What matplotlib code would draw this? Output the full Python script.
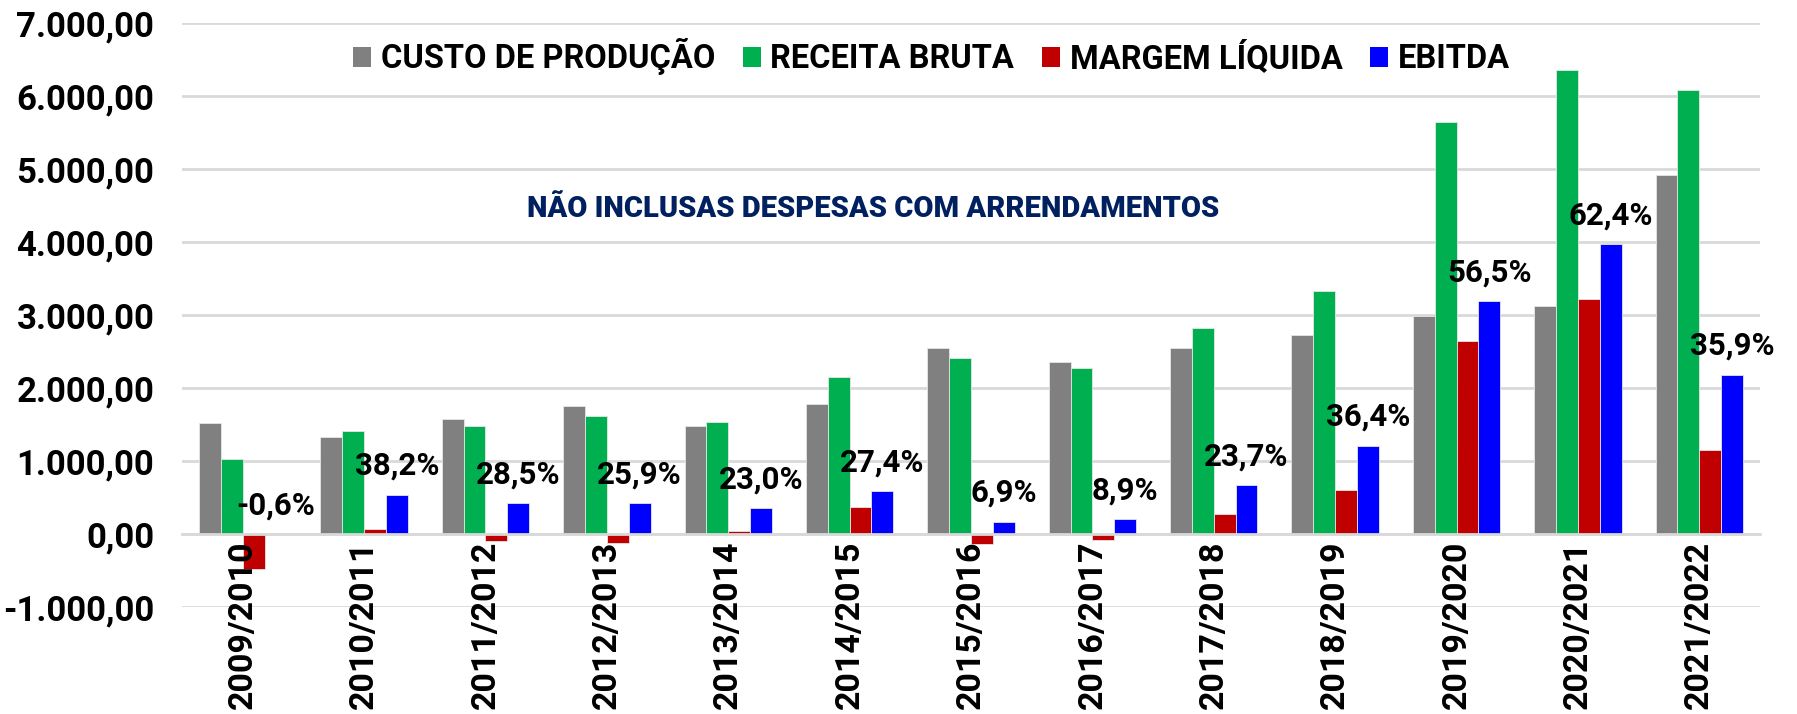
import numpy as np
import matplotlib.pyplot as plt
from matplotlib.patches import Patch
from matplotlib.ticker import FuncFormatter

plt.rcParams['font.family'] = ['Roboto', 'DejaVu Sans']

safras = ['2009/2010', '2010/2011', '2011/2012', '2012/2013', '2013/2014',
          '2014/2015', '2015/2016', '2016/2017', '2017/2018', '2018/2019',
          '2019/2020', '2020/2021', '2021/2022']

custo = [1516, 1322, 1576, 1747, 1479, 1776, 2548, 2361, 2548, 2721, 2987, 3125, 4922]
receita = [1032, 1405, 1475, 1622, 1534, 2146, 2416, 2274, 2817, 3329, 5648, 6356, 6082]
margem = [-479, 69, -101, -129, 41, 370, -132, -87, 269, 603, 2644, 3221, 1155]
ebitda = [-6, 537, 420, 420, 353, 588, 167, 202, 668, 1212, 3191, 3966, 2183]
ebitda_pct = ['-0,6%', '38,2%', '28,5%', '25,9%', '23,0%', '27,4%', '6,9%',
              '8,9%', '23,7%', '36,4%', '56,5%', '62,4%', '35,9%']

series = ['CUSTO DE PRODUÇÃO', 'RECEITA BRUTA', 'MARGEM LÍQUIDA', 'EBITDA']
cores = ['#808080', '#00B050', '#C00000', '#0000FF']

fig = plt.figure(figsize=(17.97, 7.14), dpi=100)
ax = fig.add_axes([0.1013, 0.1499, 0.8781, 0.8179])

x = np.arange(len(safras))
w = 0.18
for i, (vals, cor) in enumerate(zip([custo, receita, margem, ebitda], cores)):
    ax.bar(x + (i - 1.5) * w, vals, w, color=cor, edgecolor='#e6e6e6',
           linewidth=0.6, zorder=2)

# rotulos de margem ebitda acima da barra azul
for xi, v, txt in zip(x, ebitda, ebitda_pct):
    ax.annotate(txt, xy=(xi + 1.5 * w, max(v, 0)), xytext=(0, 10),
                textcoords='offset points', ha='center', va='bottom',
                fontsize=22.5, fontweight='bold', zorder=4)

ax.set_xlim(-0.5, len(safras) - 0.5)
ax.set_ylim(-1000, 7000)
ax.grid(axis='y', color='#d9d9d9', linewidth=2, zorder=0)
ax.set_axisbelow(True)

for s in ['top', 'right', 'left']:
    ax.spines[s].set_visible(False)
ax.spines['bottom'].set_position(('data', 0))
ax.spines['bottom'].set_color('#d9d9d9')
ax.spines['bottom'].set_linewidth(2)

ax.set_yticks(np.arange(-1000, 7001, 1000))
ax.yaxis.set_major_formatter(FuncFormatter(
    lambda v, p: f'{v:,.2f}'.replace(',', 'X').replace('.', ',').replace('X', '.')))
ax.set_xticks(x)
ax.set_xticklabels(safras, rotation=90, fontsize=24.5, fontweight='bold', va='top')
for lbl in ax.get_yticklabels():
    lbl.set_fontsize(25)
    lbl.set_fontweight('bold')
ax.tick_params(axis='both', length=0)
ax.tick_params(axis='x', pad=5)
ax.tick_params(axis='y', pad=20)
ax.xaxis.set_zorder(3)

handles = [Patch(facecolor=c, label=s) for c, s in zip(cores, series)]
ax.legend(handles=handles, ncol=4, loc='center', bbox_to_anchor=(0.475, 0.942),
          frameon=False, prop={'size': 23.5, 'weight': 'bold'},
          handlelength=0.55, handleheight=0.55, handletextpad=0.3,
          columnspacing=0.85)

ax.text(0.438, 0.681, 'NÃO INCLUSAS DESPESAS COM ARRENDAMENTOS', transform=ax.transAxes,
        ha='center', va='center', fontsize=21, fontweight='black', color='#002060')

fig.savefig('out.png', dpi=100)
